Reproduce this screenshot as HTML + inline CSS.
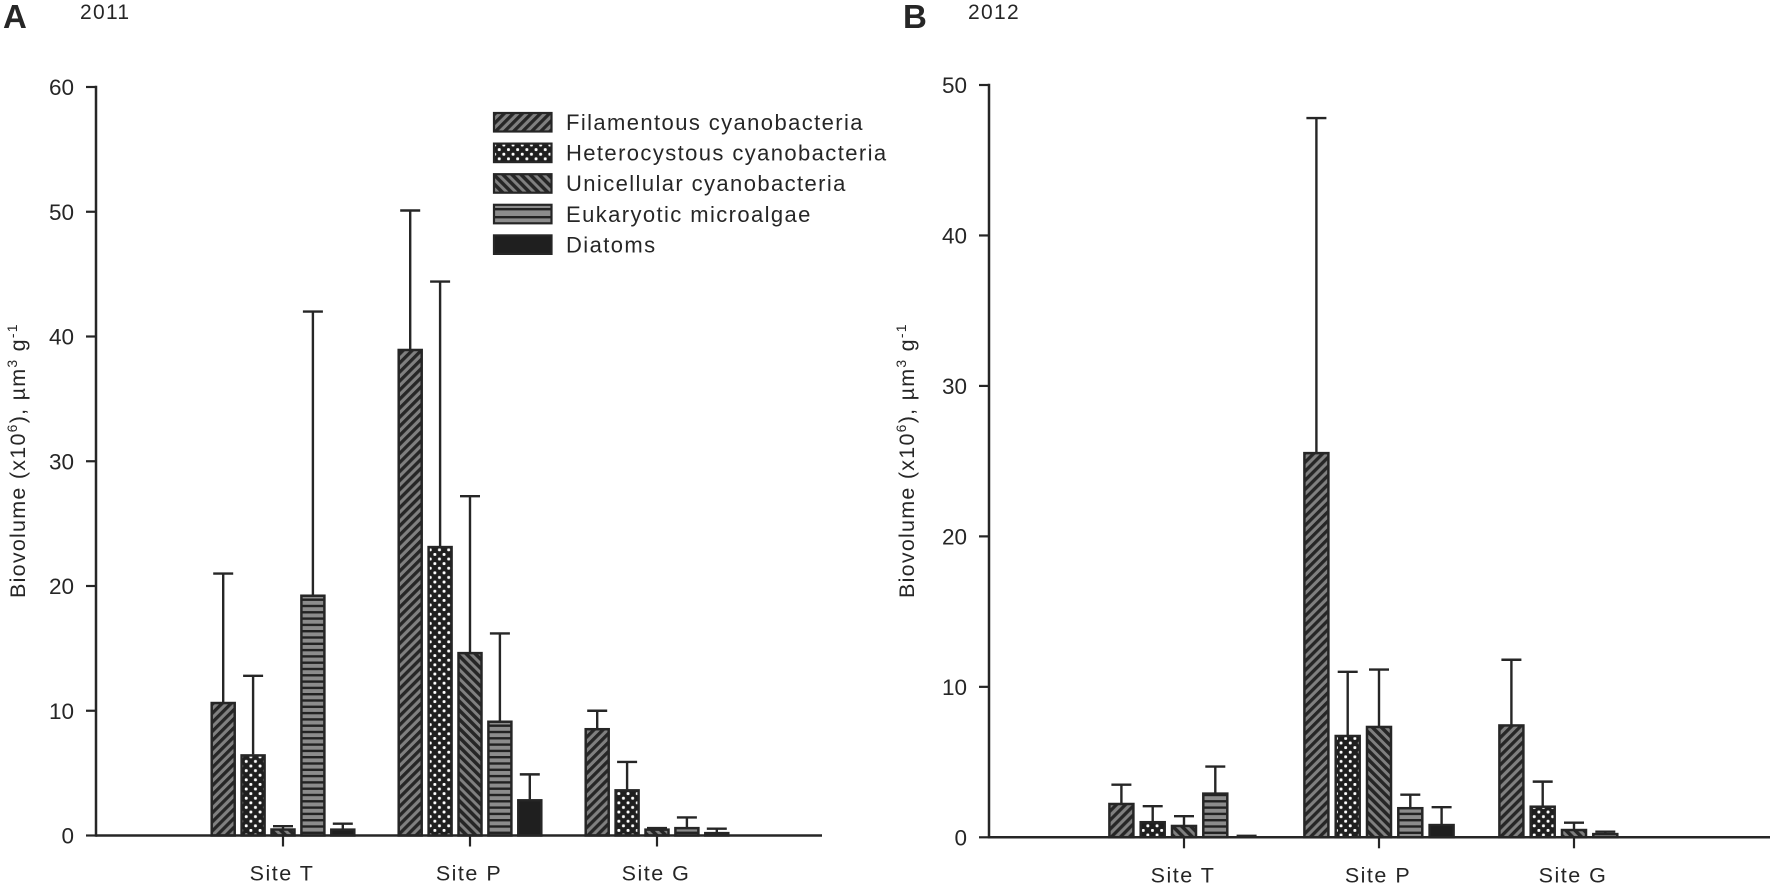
<!DOCTYPE html>
<html lang="en">
<head>
<meta charset="utf-8">
<title>Biovolume by site, 2011 and 2012</title>
<style>
html,body{margin:0;padding:0;background:#fff;}
#stage{display:block;width:1772px;height:888px;}
text{font-family:"Liberation Sans",Arial,sans-serif;fill:#262626;}
</style>
</head>
<body>
<svg id="stage" xmlns="http://www.w3.org/2000/svg" width="1772" height="888" viewBox="0 0 1772 888">
<defs>
<pattern id="pat-filamentous" patternUnits="userSpaceOnUse" width="6.4" height="6.4" patternTransform="rotate(45)">
<rect width="6.4" height="6.4" fill="#808080"/><rect x="0" width="3.3" height="6.4" fill="#262626"/>
</pattern>
<pattern id="pat-heterocystous" patternUnits="userSpaceOnUse" width="9.2" height="9.2">
<rect width="9.2" height="9.2" fill="#1f1f1f"/>
<rect x="1" y="1" width="2.9" height="2.9" rx="1" fill="#fff"/>
<rect x="5.6" y="5.6" width="2.9" height="2.9" rx="1" fill="#fff"/>
</pattern>
<pattern id="pat-unicellular" patternUnits="userSpaceOnUse" width="6.4" height="6.4" patternTransform="rotate(-45)">
<rect width="6.4" height="6.4" fill="#808080"/><rect x="0" width="3.5" height="6.4" fill="#262626"/>
</pattern>
<pattern id="pat-eukaryotic" patternUnits="userSpaceOnUse" width="7" height="6.3">
<rect width="7" height="6.3" fill="#8c8c8c"/><rect y="0" width="7" height="2.4" fill="#222"/>
</pattern>
<pattern id="pat-eukaryotic-legend" patternUnits="userSpaceOnUse" width="7" height="8">
<rect width="7" height="8" fill="#8c8c8c"/><rect y="0" width="7" height="2.4" fill="#222"/>
</pattern>
</defs>
<g id="chart-root"></g>
</svg>
<script>
const categories = ['Site T', 'Site P', 'Site G'];
const seriesNames = ['Filamentous cyanobacteria', 'Heterocystous cyanobacteria', 'Unicellular cyanobacteria', 'Eukaryotic microalgae', 'Diatoms'];
const ticksA = [0, 10, 20, 30, 40, 50, 60];
const ticksB = [0, 10, 20, 30, 40, 50];

const filamentous2011 = [10.7, 39.0, 8.6];
const heterocystous2011 = [6.5, 23.2, 3.7];
const unicellular2011 = [0.56, 14.7, 0.55];
const eukaryotic2011 = [19.3, 9.2, 0.67];
const diatoms2011 = [0.55, 2.9, 0.27];
const filamentousErr2011 = [21.0, 50.1, 10.0];
const heterocystousErr2011 = [12.8, 44.4, 5.9];
const unicellularErr2011 = [0.75, 27.2, 0.6];
const eukaryoticErr2011 = [42.0, 16.2, 1.45];
const diatomsErr2011 = [0.95, 4.9, 0.55];

const filamentous2012 = [2.28, 25.6, 7.5];
const heterocystous2012 = [1.07, 6.8, 2.1];
const unicellular2012 = [0.82, 7.4, 0.55];
const eukaryotic2012 = [2.97, 2.0, 0.28];
const diatoms2012 = [0.02, 0.88, 0];
const filamentousErr2012 = [3.5, 47.8, 11.8];
const heterocystousErr2012 = [2.07, 11.0, 3.7];
const unicellularErr2012 = [1.4, 11.15, 0.97];
const eukaryoticErr2012 = [4.7, 2.83, 0.37];
const diatomsErr2012 = [0.1, 2.0, 0];

const NS = 'http://www.w3.org/2000/svg';
const root = document.getElementById('chart-root');
const patternFills = ['url(#pat-filamentous)', 'url(#pat-heterocystous)', 'url(#pat-unicellular)', 'url(#pat-eukaryotic)', '#1f1f1f'];
const seriesSlugs = ['filamentous', 'heterocystous', 'unicellular', 'eukaryotic', 'diatoms'];
const INK = '#262626';

function make(tag, attrs, parent) {
  const el = document.createElementNS(NS, tag);
  for (const k in attrs) el.setAttribute(k, attrs[k]);
  (parent || root).appendChild(el);
  return el;
}

function drawPanel(p) {
  const g = make('g', {});
  
  

  const yScale = v => p.y0 - (v / p.yMax) * (p.y0 - p.yTop);
  const xCenter = i => p.firstCenter + i * p.groupStep;

  p.values.forEach(function (vals, s) {
    const errs = p.errors[s];
    vals.forEach(function (v, c) {
      if (v <= 0 && errs[c] <= 0) return;
      const cx = xCenter(c) + (s - 2) * p.barStep;
      const top = yScale(v);
      const errTop = yScale(errs[c]);
      const whisker = make('path', {
        d: 'M' + cx + ' ' + top + 'V' + errTop + 'M' + (cx - 10) + ' ' + errTop + 'H' + (cx + 10),
        fill: 'none', stroke: INK, 'stroke-width': 2.4
      }, g);
      
      
      if (v < 0.05) return;
      const bar = make('rect', {
        x: cx - p.barWidth / 2 + 1.25, y: top + 1,
        width: p.barWidth - 2.5, height: Math.max(p.y0 - top - 1, 0.5),
        fill: patternFills[s], stroke: INK, 'stroke-width': 2.5
      }, g);
      
      
    });
  });

  const yAxis = make('line', { x1: p.axisX, x2: p.axisX, y1: p.yTop - 1.2, y2: p.y0 + 1.2, stroke: INK, 'stroke-width': 2.5 }, g);
  
  
  const xAxis = make('line', { x1: p.axisX, x2: p.axisEnd, y1: p.y0, y2: p.y0, stroke: INK, 'stroke-width': 2.5 }, g);
  
  

  p.ticks.forEach(function (t) {
    const y = yScale(t);
    const tick = make('line', { x1: p.axisX - 10, x2: p.axisX, y1: y, y2: y, stroke: INK, 'stroke-width': 2.2 }, g);
    
    
    const label = make('text', { x: p.axisX - 22, y: y + 8, 'text-anchor': 'end', 'font-size': 22.5 }, g);
    label.textContent = t;
    
    
  });

  categories.forEach(function (name, c) {
    const x = xCenter(c) - 1;
    const tick = make('line', { x1: x + 1, x2: x + 1, y1: p.y0, y2: p.y0 + 11, stroke: INK, 'stroke-width': 2.2 }, g);
    
    
    const label = make('text', { x: x, y: p.y0 + 45, 'text-anchor': 'middle', 'font-size': 21.5, 'letter-spacing': 1.5 }, g);
    label.textContent = name;
    
    
  });

  const yTitle = make('text', {
    transform: 'translate(' + p.titleX + ' 598) rotate(-90)',
    x: 0, y: 0, 'font-size': 21.5, 'letter-spacing': 1.25
  }, g);
  
  
  [['Biovolume (x10', 0, 21.5], ['6', -8, 14], ['), \u00B5m', 8, 21.5], ['3', -8, 14], [' g', 8, 21.5], ['-1', -8, 14]].forEach(function (part) {
    const span = make('tspan', { dy: part[1], 'font-size': part[2] }, yTitle);
    span.textContent = part[0];
  });

  const letter = make('text', { x: p.letterX, y: 28, 'font-size': 33, 'font-weight': 'bold', fill: '#111' }, g);
  letter.textContent = p.letter;
  
  

  const year = make('text', { x: p.yearX, y: 19, 'font-size': 21, 'letter-spacing': 1.3 }, g);
  year.textContent = p.year;
  
  
}

drawPanel({
  id: 'a', letter: 'A', year: '2011', letterX: 3, yearX: 80,
  ticks: ticksA, yMax: 60, y0: 835.5, yTop: 87, axisX: 96, axisEnd: 822, titleX: 25,
  firstCenter: 283, groupStep: 187, barStep: 29.9, barWidth: 25.5,
  values: [filamentous2011, heterocystous2011, unicellular2011, eukaryotic2011, diatoms2011],
  errors: [filamentousErr2011, heterocystousErr2011, unicellularErr2011, eukaryoticErr2011, diatomsErr2011]
});

drawPanel({
  id: 'b', letter: 'B', year: '2012', letterX: 903, yearX: 968,
  ticks: ticksB, yMax: 50, y0: 837.3, yTop: 85, axisX: 989, axisEnd: 1770, titleX: 914,
  firstCenter: 1184, groupStep: 195, barStep: 31.3, barWidth: 26.5,
  values: [filamentous2012, heterocystous2012, unicellular2012, eukaryotic2012, diatoms2012],
  errors: [filamentousErr2012, heterocystousErr2012, unicellularErr2012, eukaryoticErr2012, diatomsErr2012]
});

const legend = make('g', {});


seriesNames.forEach(function (name, i) {
  const top = 112 + i * 30.6;
  const entry = make('g', {}, legend);
  
  
  const fill = i === 3 ? 'url(#pat-eukaryotic-legend)' : patternFills[i];
  const swatch = make('rect', { x: 494, y: top + 1, width: 57.5, height: 18.5, fill: fill, stroke: INK, 'stroke-width': 2.2 }, entry);
  
  
  const label = make('text', { x: 566, y: top + 18, 'font-size': 22, 'letter-spacing': 1.4 }, entry);
  label.textContent = name;
  
  
});
</script>
</body>
</html>
